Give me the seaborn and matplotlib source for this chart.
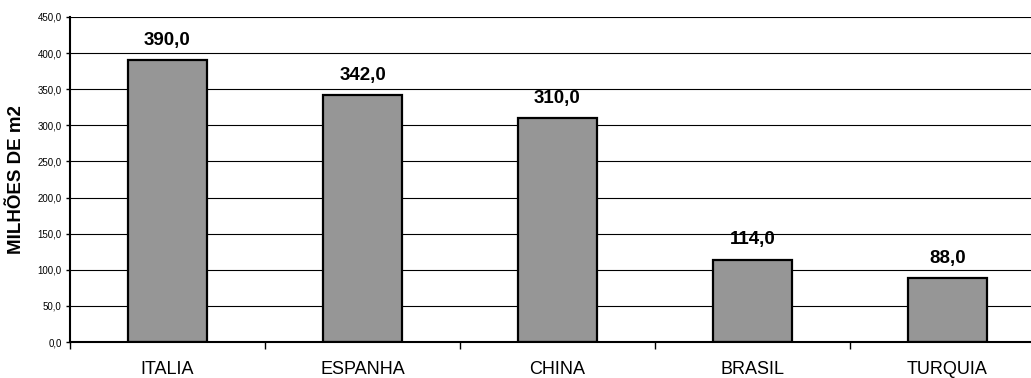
import matplotlib
matplotlib.use("Agg")
import matplotlib.pyplot as plt
import seaborn as sns
import pandas as pd
from matplotlib.ticker import FixedLocator, FuncFormatter

countries = ["ITALIA", "ESPANHA", "CHINA", "BRASIL", "TURQUIA"]
values = [390.0, 342.0, 310.0, 114.0, 88.0]
y_label = "MILHÕES DE m2"
y_ticks = [0, 50, 100, 150, 200, 250, 300, 350, 400, 450]

df = pd.DataFrame({"pais": countries, "valor": values})

sns.set_style("white")
plt.rcParams["font.family"] = ["Liberation Sans", "DejaVu Sans"]
plt.rcParams["text.color"] = "black"
plt.rcParams["axes.labelcolor"] = "black"
plt.rcParams["xtick.color"] = "black"
plt.rcParams["ytick.color"] = "black"

W, H = 1031, 378
fig = plt.figure(figsize=(W / 100, H / 100), dpi=100)
left, right, top, bottom = 70, 1045, 17, 342
ax = fig.add_axes([left / W, 1 - bottom / H, (right - left) / W, (bottom - top) / H])

sns.barplot(data=df, x="pais", y="valor", ax=ax, color="#969696",
            edgecolor="black", linewidth=1.6, width=0.405, saturation=1)

ax.set_xlim(-0.5, len(countries) - 0.5)
ax.set_ylim(0, 450)
ax.set_yticks(y_ticks)
ax.yaxis.set_major_formatter(FuncFormatter(lambda v, p: f"{v:.1f}".replace(".", ",")))
ax.tick_params(axis="y", labelsize=7, length=3, width=1, direction="out", pad=3,
               left=True, colors="black")
ax.yaxis.grid(True, color="black", linewidth=0.8)
ax.set_axisbelow(True)

# x: ticks at category boundaries, labels at centers
ax.xaxis.set_major_locator(FixedLocator([i - 0.5 for i in range(len(countries) + 1)]))
ax.xaxis.set_major_formatter(FuncFormatter(lambda v, p: ""))
ax.set_xticks(range(len(countries)), labels=countries, minor=True)
ax.tick_params(axis="x", which="major", length=5, width=1, direction="out", bottom=True,
               colors="black")
ax.tick_params(axis="x", which="minor", length=0, pad=14, labelsize=13, colors="black")
ax.xaxis.grid(False)

for s in ["top", "right"]:
    ax.spines[s].set_visible(False)
for s in ["left", "bottom"]:
    ax.spines[s].set_color("black")
    ax.spines[s].set_linewidth(1.5)

ax.set_xlabel("")
ax.set_ylabel("")
fig.text(17 / W, 1 - 180 / H, y_label, rotation=90, ha="center", va="center",
         fontsize=13.5, fontweight="bold", color="black")

for i, v in enumerate(values):
    ax.annotate(f"{v:.1f}".replace(".", ","), (i, v), xytext=(0, 11),
                textcoords="offset points", ha="center", va="baseline",
                fontsize=13.5, fontweight="bold", color="black")

fig.savefig("out.png", dpi=100)
